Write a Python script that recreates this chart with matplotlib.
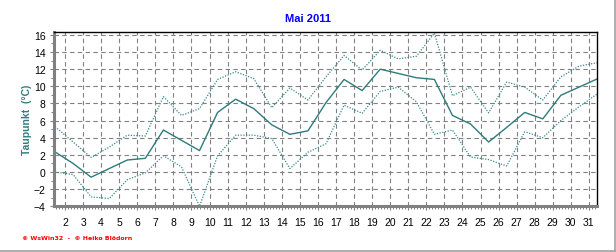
import numpy as np
import matplotlib.pyplot as plt
from matplotlib.lines import Line2D
from matplotlib.ticker import FixedLocator, MultipleLocator

# Taupunkt Mai 2011, Tageswerte
tage = np.arange(1, 32)
mittel = [2.35, 1.0, -0.6, 0.4, 1.4, 1.6, 4.9, 3.7, 2.5, 6.95, 8.5, 7.4, 5.5, 4.4, 4.8, 8.1,
          10.8, 9.5, 12.0, 11.5, 11.0, 10.8, 6.6, 5.6, 3.5, 5.2, 6.95, 6.2, 8.95, 9.9, 10.85]
maximum = [5.3, 3.5, 1.7, 2.9, 4.3, 4.2, 8.8, 6.6, 7.4, 10.8, 11.7, 10.9, 7.5, 9.8, 8.4, 11.1,
           13.6, 11.9, 14.2, 13.2, 13.5, 16.2, 8.9, 9.9, 6.9, 10.5, 9.9, 8.4, 11.1, 12.35, 12.75]
minimum = [0.0, -0.3, -2.9, -3.1, -0.9, -0.1, 1.9, 0.6, -4.0, 1.9, 4.3, 4.3, 3.9, 0.4, 2.3, 3.3,
           7.8, 6.85, 9.4, 9.9, 8.2, 4.4, 4.9, 1.75, 1.45, 0.7, 4.7, 4.0, 6.0, 7.6, 9.1]
tag_labels = [str(t) for t in range(2, 32)]
y_ticks = [-4, -2, 0, 2, 4, 6, 8, 10, 12, 14, 16]

teal = "#2E7B7B"
schrift = "Liberation Sans"

fig = plt.figure(figsize=(6.16, 2.53), dpi=100)
ax = fig.add_axes([54 / 616, 1 - 207.3 / 253, 543 / 616, 174 / 253])

ax.plot(tage, maximum, color="#3A8888", lw=0.9, ls=(0, (1, 1.2)))
ax.plot(tage, minimum, color="#3A8888", lw=0.9, ls=(0, (1, 1.2)))
ax.plot(tage, mittel, color=teal, lw=1.0)

ax.set_xlim(1 - 1 / 18.07, 31)
ax.set_ylim(-4, 16.3)

# Tagesgrenzen liegen etwas versetzt zu den Messpunkten
tick_pos = np.arange(2, 32) - 0.447
ax.xaxis.set_major_locator(FixedLocator(tick_pos))
ax.set_xticklabels(tag_labels)
ax.xaxis.set_minor_locator(FixedLocator(np.arange(tick_pos[0] - 1, 31.01, 1 / 6)))
ax.set_yticks(y_ticks)
ax.yaxis.set_minor_locator(MultipleLocator(1))

ax.grid(True, which="major", color="#808080", lw=0.8, ls=(0, (4, 3)))

for lab in ax.get_xticklabels() + ax.get_yticklabels():
    lab.set_fontfamily(schrift)
    lab.set_fontsize(7.5)
ax.tick_params(axis="x", which="major", length=3, width=0.8, color="#808080", pad=5)
ax.tick_params(axis="x", which="minor", length=2, width=0.7, color="#808080")
ax.tick_params(axis="y", which="major", length=3, width=0.8, color="#808080", pad=3)
ax.tick_params(axis="y", which="minor", length=2, width=0.7, color="#808080")

ax.spines["left"].set_color("#808080")
ax.spines["left"].set_linewidth(2.2)
ax.spines["bottom"].set_color("#808080")
ax.spines["bottom"].set_linewidth(2.2)
ax.spines["top"].set_color("black")
ax.spines["top"].set_linewidth(1.0)
ax.spines["right"].set_color("black")
ax.spines["right"].set_linewidth(1.0)

fig.text(308 / 616, 1 - 19 / 253, "Mai 2011", color="#0000FF", fontsize=8, fontweight="bold",
         family=schrift, ha="center", va="center")
fig.text(27 / 616, 1 - 120 / 253, "Taupunkt  (°C)", color="#2F7F7F", fontsize=7.5,
         fontweight="bold", family=schrift, rotation=90, ha="center", va="center")
fig.text(22 / 616, 1 - 239 / 253, "© WsWin32  -  © Heiko Blödorn", color="red", fontsize=4.5,
         fontweight="bold", ha="left", va="center")

# Rahmen rechts und unten
fig.add_artist(Line2D([0, 615 / 616], [1.5 / 253, 1.5 / 253], color="#A0A0A0", lw=1.2))
fig.add_artist(Line2D([615 / 616, 615 / 616], [1.5 / 253, 1], color="#A0A0A0", lw=1.2))

fig.savefig("out.png", dpi=100)
